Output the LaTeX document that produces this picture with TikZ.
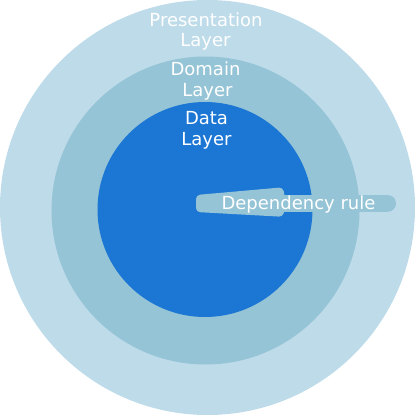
\documentclass[tikz,border=0pt]{standalone}
\usepackage{fontspec}
\setmainfont{DejaVu Sans}
\definecolor{outerring}{HTML}{BEDBEA}
\definecolor{middlering}{HTML}{95C4D6}
\definecolor{innercore}{HTML}{1B76D4}
\begin{document}
\begin{tikzpicture}[x=1pt,y=-1pt,
  label/.style={text=white,font=\fontsize{18}{21}\selectfont,inner sep=0pt,anchor=base},
  rulefill/.style={fill=middlering,draw=none}]
  \useasboundingbox (0,0) rectangle (415,415);
  % concentric layers
  \fill[outerring] (207.5,207.5) circle[radius=207.5];
  \fill[middlering] (205.5,210.5) circle[radius=154];
  \fill[innercore] (205,209.5) circle[radius=107.5];
  % layer captions
  \node[label] (presA) at (206,26) {Presentation};
  \node[label] (presB) at (205.5,46.5) {Layer};
  \node[label] (domA) at (205.5,75.5) {Domain};
  \node[label] (domB) at (207.5,96.5) {Layer};
  \node[label] (dataA) at (206.5,124) {Data};
  \node[label] (dataB) at (206.5,145.5) {Layer};
  % dependency rule arrow: tapered wedge plus rounded bar
  \path[rulefill,rounded corners=4pt] (196,195) -- (283,187.3) -- (286,203) -- (283,216.8) -- (196,212) -- cycle;
  \path[rulefill,rounded corners=8.3pt] (196,195) rectangle (396,211.8);
  \node[label] (deprule) at (298.5,209.3) {Dependency rule};
\end{tikzpicture}
\end{document}
